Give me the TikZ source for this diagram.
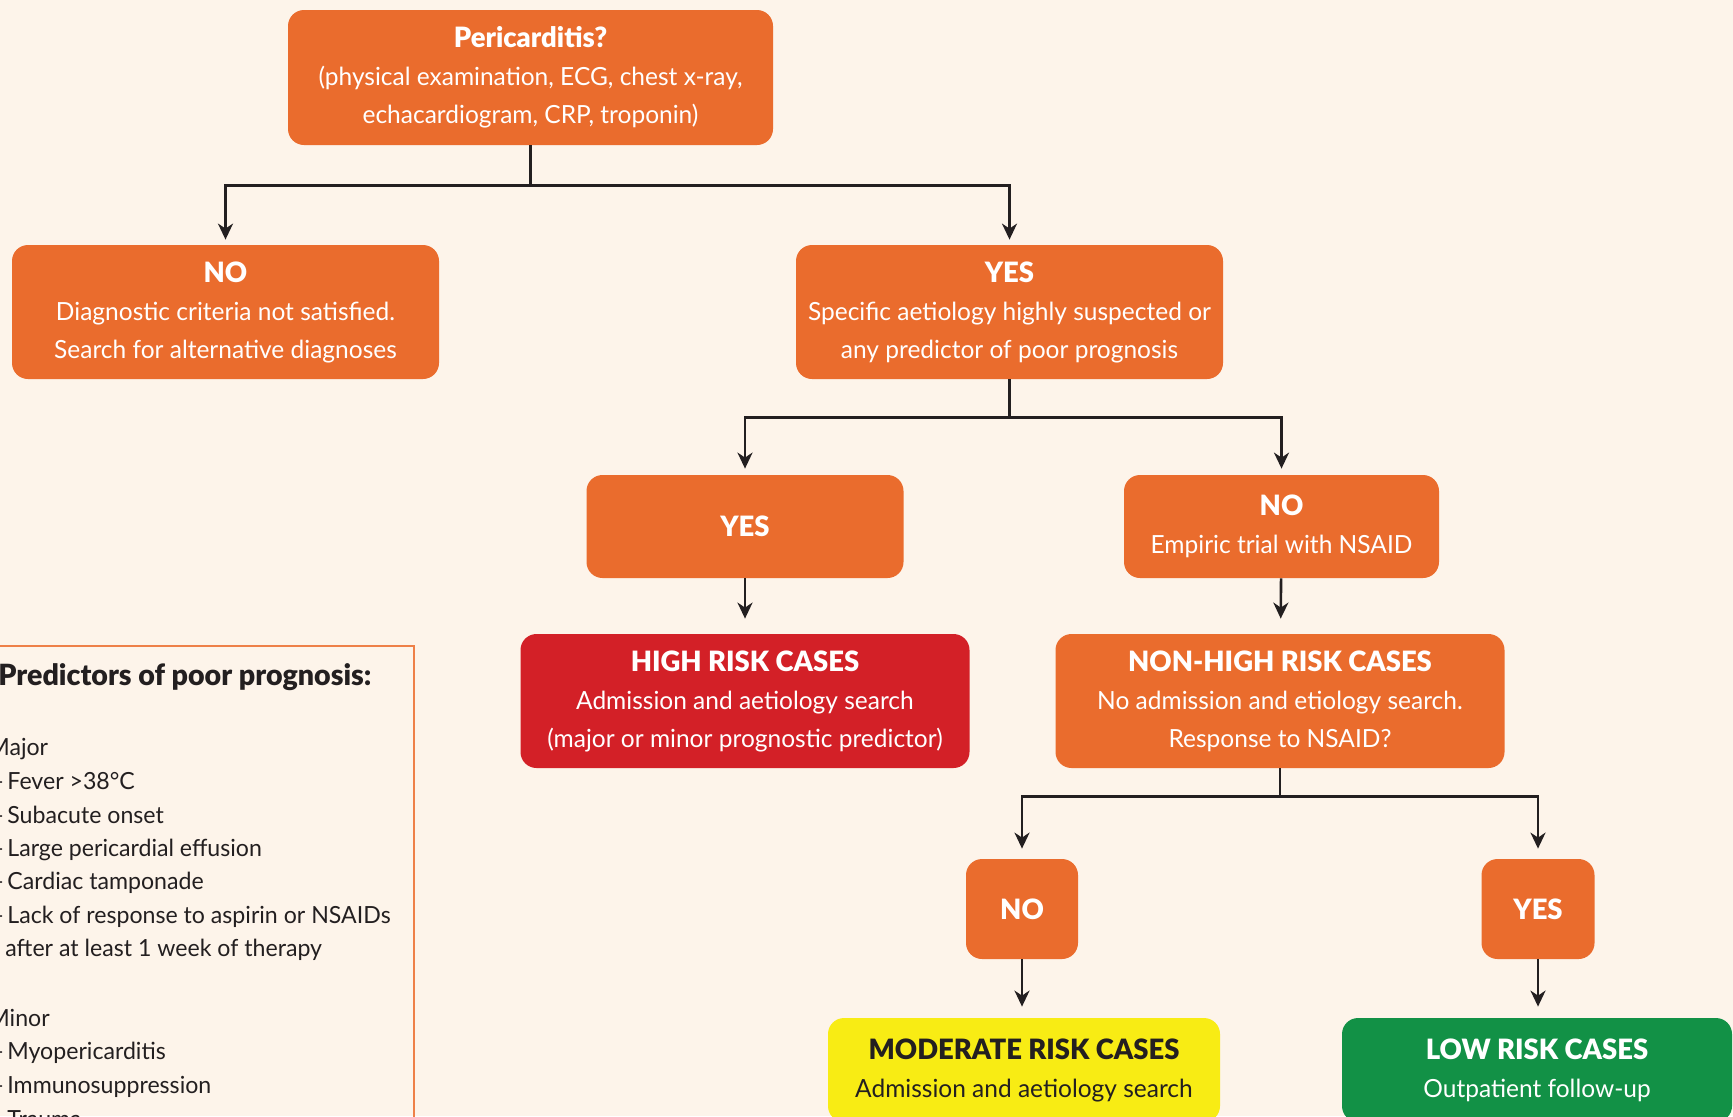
\documentclass[tikz,border=0pt]{standalone}
\usepackage{fontspec}
\setmainfont{Lato}[FakeStretch=0.98, BoldFont={Lato Black}]
\usepackage{tikz}
\usetikzlibrary{positioning, arrows.meta}

\definecolor{pcbg}{RGB}{253,244,234}
\definecolor{pcorange}{RGB}{234,108,45}
\definecolor{pcred}{RGB}{211,32,39}
\definecolor{pcyellow}{RGB}{248,236,20}
\definecolor{pcgreen}{RGB}{18,145,70}
\definecolor{pcline}{RGB}{35,31,32}
\definecolor{pcborder}{RGB}{238,128,72}

\newcommand{\pcboxfont}{\fontsize{12.5}{19}\selectfont}
\newcommand{\pcpredfont}{\fontsize{11.8}{16}\selectfont}
\newcommand{\pchead}[1]{{\fontsize{14}{19}\selectfont\bfseries #1}}

\begin{document}
\begin{tikzpicture}[x=0.5pt, y=-0.5pt,
    box/.style={fill=pcorange, text=white, rounded corners=8pt, align=center, inner sep=0pt, font=\pcboxfont},
    flow/.style={draw=pcline, line width=1.3pt},
    arr/.style={flow, -{Stealth[length=8pt, width=7.5pt, inset=2.5pt]}},
    predtext/.style={anchor=base west, inner sep=0pt, text=pcline, font=\pcpredfont},
    predhead/.style={predtext, font=\fontsize{14.6}{16}\selectfont\bfseries}
    ]
\fill[pcbg] (0,0) rectangle (1733,1116);
\useasboundingbox (0,0) rectangle (1733,1116);
\clip (0,0) rectangle (1733,1116);

\node[box, minimum width=242.5pt, minimum height=67.5pt] (peri) at (530.5,77.5)
    {\pchead{Pericarditis?}\\(physical examination, ECG, chest x-ray,\\echacardiogram, CRP, troponin)};

\node[box, minimum width=213.5pt, minimum height=67pt] (nodiag) at (225.5,312)
    {\pchead{NO}\\Diagnostic criteria not satisfied.\\Search for alternative diagnoses};
\node[box, minimum width=213.5pt, minimum height=67pt] (yesaet) at (1009.5,312)
    {\pchead{YES}\\Specific aetiology highly suspected or\\any predictor of poor prognosis};

\node[box, minimum width=158.5pt, minimum height=51.5pt] (yeshigh) at (745,526.5) {\pchead{YES}};
\node[box, minimum width=157.5pt, minimum height=51.5pt] (nsaid) at (1281.5,526.5)
    {\pchead{NO}\\Empiric trial with NSAID};

\node[box, fill=pcred, minimum width=224.5pt, minimum height=67pt] (high) at (745,701)
    {\pchead{HIGH RISK CASES}\\Admission and aetiology search\\(major or minor prognostic predictor)};
\node[box, minimum width=224.5pt, minimum height=67pt] (nonhigh) at (1280,701)
    {\pchead{NON-HIGH RISK CASES}\\No admission and etiology search.\\Response to NSAID?};

\node[box, minimum width=56pt, minimum height=50pt] (nores) at (1022,909) {\pchead{NO}};
\node[box, minimum width=56.5pt, minimum height=50pt] (yesres) at (1538,909) {\pchead{YES}};

\node[box, fill=pcyellow, text=pcline, minimum width=196pt, minimum height=52pt] (moderate) at (1024,1070)
    {\pchead{MODERATE RISK CASES}\\Admission and aetiology search};
\node[box, fill=pcgreen, minimum width=195pt, minimum height=52pt] (low) at (1537,1070)
    {\pchead{LOW RISK CASES}\\Outpatient follow-up};

\path (peri.south) ++(0,40) coordinate (split1);
\path (yesaet.south) ++(0,38) coordinate (split2);
\path (nonhigh.south) ++(0,28) coordinate (split3);

\draw[flow] (peri.south) -- (split1);
\draw[arr, shorten >=2.5pt] (split1) -| (nodiag.north);
\draw[arr, shorten >=2.5pt] (split1) -| (yesaet.north);

\draw[flow] (yesaet.south) -- (split2);
\draw[arr, shorten >=3pt] (split2) -| (yeshigh.north);
\draw[arr, shorten >=3pt] (split2) -| (nsaid.north);

\draw[arr, shorten >=7.5pt] (yeshigh) -- (high);
\draw[arr, shorten >=7.5pt] (nsaid) -- (nonhigh);

\draw[flow] (nonhigh.south) -- (split3);
\draw[arr, shorten >=5pt] (split3) -| (nores.north);
\draw[arr, shorten >=5pt] (split3) -| (yesres.north);

\draw[arr, shorten >=5.5pt] (nores) -- (nores |- moderate.north);
\draw[arr, shorten >=5.5pt] (yesres) -- (yesres |- low.north);

\draw[pcborder, line width=1pt] (-10,646) rectangle (414,1140);
\node[predhead] (predtitle) at (-2,685) {Predictors of poor prognosis:};
\node[predtext] (major) at (-12,755) {Major};
\foreach \nm/\yy/\txt in {fever/789/Fever >38°C, subacute/823/Subacute onset,
    effusion/856/Large pericardial effusion, tamponade/889/Cardiac tamponade,
    lack/923/Lack of response to aspirin or NSAIDs}
  \node[predtext] (\nm) at (7,\yy) {\llap{–\hspace{1.5pt}}\txt};
\node[predtext] (week) at (5,956) {after at least 1 week of therapy};
\node[predtext] (minor) at (-12,1026) {Minor};
\foreach \nm/\yy/\txt in {myo/1059/Myopericarditis, immuno/1093/Immunosuppression,
    trauma/1127/Trauma}
  \node[predtext] (\nm) at (7,\yy) {\llap{–\hspace{1.5pt}}\txt};
\end{tikzpicture}
\end{document}
